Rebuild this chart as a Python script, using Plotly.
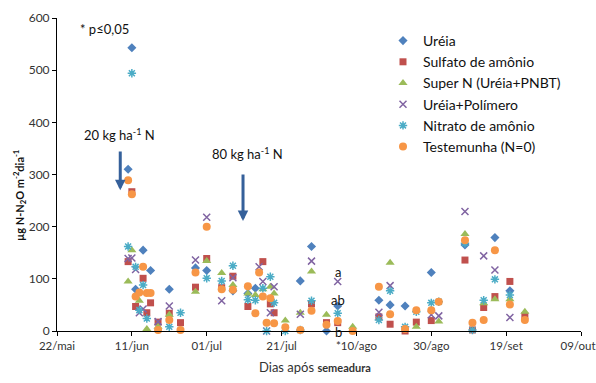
import plotly.graph_objects as go

# Days after sowing (22/mai = day 0)
dias = [19, 20, 21, 22, 23, 24, 25, 27, 30, 33, 37, 40, 44, 47, 51, 53, 54, 55, 56, 57,
        58, 61, 65, 68, 72, 75, 79, 86, 89, 93, 96, 100, 102, 109, 111, 114, 117, 121, 125]

ureia = [310, 543, 80, None, 155, None, 116, None, 80, None, 121, 116, None, 77, 72, 82, None, None, None, None,
         None, None, 96, 162, 0, 48, None, 59, 50, 48, None, 112, None, 165, None, None, 179, 77, None]
sulfato = [133, 267, 47, None, 101, 35, 54, 17, 34, 16, 84, 139, 83, 105, 47, None, None, 133, None, 52,
           35, None, None, 52, 16, 16, None, 27, 13, 0, 17, 20, None, 136, 2, 45, 66, 95, 29]
super_n = [95, 155, None, 58, None, 4, None, 8, 31, None, 75, 134, 111, 88, 72, 69, None, 80, None, 85,
           72, 20, 35, 114, 31, None, 8, None, 131, None, 8, None, 18, 186, None, 53, 61, 61, 37]
polimero = [139, 140, 118, 35, 42, None, None, 18, 48, None, 136, 218, 58, 102, None, None, 123, 95, 0, 35,
            85, None, 32, 134, None, 95, None, 36, 87, None, None, 31, 29, 229, None, 144, 117, 26, None]
nitrato = [162, 494, 123, 40, 88, 24, None, None, 8, 35, None, 101, 96, 125, 60, 59, None, 82, 0, 104,
           54, 0, 2, 58, None, 34, None, 21, 77, 8, 37, 54, 56, 168, 2, 59, 99, 69, None]
testemunha = [289, 262, 66, 74, 123, 73, 73, 2, 21, 2, 112, 200, 80, 79, 86, 34, 112, 66, 16, 63,
              15, 7, 2, 39, 12, 19, 0, 85, 32, 4, 40, 40, 56, 174, 16, 21, 155, 51, 21]

tick_vals = [0, 20, 40, 60, 80, 100, 120, 140]
tick_text = ["22/mai", "11/jun", "01/jul", "21/jul", "*10/ago", "30/ago", "19/set", "09/out\u00a0\u00a0"]

series = [
    ("Uréia", ureia, "diamond", "#4F81BD", 7, None),
    ("Sulfato de amônio", sulfato, "square", "#C0504D", 7, None),
    ("Super N (Uréia+PNBT)", super_n, "triangle-up", "#9BBB59", 8, None),
    ("Uréia+Polímero", polimero, "x-thin-open", "#8064A2", 7, 1.5),
    ("Nitrato de amônio", nitrato, "asterisk-open", "#4BACC6", 7, 1.5),
    ("Testemunha (N=0)", testemunha, "circle", "#F79646", 8, None),
]

fig = go.Figure()
for name, vals, sym, col, size, lw in series:
    marker = dict(symbol=sym, color=col, size=size)
    if lw:
        marker["line"] = dict(color=col, width=lw)
    else:
        marker["line"] = dict(width=0)
    fig.add_trace(go.Scatter(x=dias, y=vals, mode="markers", name=name, marker=marker,
                             cliponaxis=False))

FONT = "Lato"
txt = dict(family=FONT, size=13, color="#111")

W, H = 596, 383
L, R, T, B = 57, 15, 18, 52
PW, PH = W - L - R, H - T - B


def px(xp):  # page pixel -> paper
    return (xp - L) / PW


def py(yp):
    return (H - B - yp) / PH


fig.update_layout(
    width=W, height=H,
    margin=dict(l=L, r=R, t=T, b=B, autoexpand=False),
    paper_bgcolor="white", plot_bgcolor="white",
    font=dict(family=FONT, size=12, color="#333"),
    showlegend=True,
    legend=dict(x=px(383), y=py(25), xanchor="left", yanchor="top",
                font=dict(family=FONT, size=14, color="#111"),
                bgcolor="rgba(0,0,0,0)", tracegroupgap=0, itemwidth=30),
    xaxis=dict(range=[0, 140], tickvals=tick_vals, ticktext=tick_text, showgrid=False,
               zeroline=False, showline=True, linecolor="black", linewidth=1,
               ticks="outside", ticklen=4, tickcolor="black", automargin=False,
               ticklabeloverflow="allow",
               tickfont=dict(family=FONT, size=11.5, color="#333")),
    yaxis=dict(range=[0, 600], dtick=100, showgrid=False, zeroline=False,
               showline=True, linecolor="black", linewidth=1, automargin=False,
               ticks="outside", ticklen=4, tickcolor="black",
               tickfont=dict(family=FONT, size=12, color="#333")),
)

annotations = [
    dict(x=px(78), y=py(29), xref="paper", yref="paper", text="* p≤0,05",
         showarrow=False, xanchor="left", yanchor="middle", font=txt),
    dict(x=px(82), y=py(134), xref="paper", yref="paper",
         text="20 kg ha<sup>-1</sup> N", showarrow=False, xanchor="left", yanchor="middle", font=txt),
    dict(x=px(210), y=py(153), xref="paper", yref="paper",
         text="80 kg ha<sup>-1</sup> N", showarrow=False, xanchor="left", yanchor="middle", font=txt),
    dict(x=px(338), y=py(272), xref="paper", yref="paper", text="a", showarrow=False,
         xanchor="center", yanchor="middle", font=txt),
    dict(x=px(338), y=py(300), xref="paper", yref="paper", text="ab", showarrow=False,
         xanchor="center", yanchor="middle", font=txt),
    dict(x=px(338), y=py(332), xref="paper", yref="paper", text="b", showarrow=False,
         xanchor="center", yanchor="middle", font=txt),
    dict(x=16.9, y=270, ax=16.9, ay=347, xref="x", yref="y", axref="x", ayref="y", text="",
         showarrow=True, arrowhead=2, arrowsize=0.7, arrowwidth=3, arrowcolor="#35609A"),
    dict(x=49.7, y=211, ax=49.7, ay=303, xref="x", yref="y", axref="x", ayref="y", text="",
         showarrow=True, arrowhead=2, arrowsize=0.7, arrowwidth=3, arrowcolor="#35609A"),
    dict(x=px(19), y=py(196), xref="paper", yref="paper",
         text="<b>µg N-N<sub>2</sub>O m<sup>-2</sup>dia<sup>-1</sup></b>", textangle=-90,
         showarrow=False, xanchor="center", yanchor="middle",
         font=dict(family=FONT, size=11, color="#111")),
    dict(x=px(315), y=py(367), xref="paper", yref="paper",
         text="Dias após <b><span style='font-size:11px'>semeadura</span></b>",
         showarrow=False, xanchor="center", yanchor="middle",
         font=dict(family=FONT, size=13, color="#333")),
]
fig.update_layout(annotations=annotations)

fig.write_html("out.html", config={"displayModeBar": False},
               post_script="document.body.style.margin='0';document.body.style.overflow='hidden';")
